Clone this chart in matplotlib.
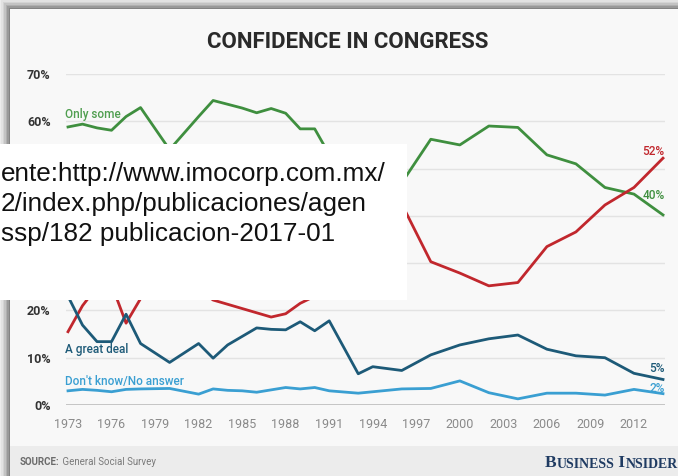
import matplotlib.pyplot as plt
from matplotlib.patches import Rectangle

# survey years and shares (%) for each answer
years = [1973, 1974, 1975, 1976, 1977, 1978, 1980, 1982, 1983, 1984, 1985, 1986, 1987,
         1988, 1989, 1990, 1991, 1993, 1994, 1996, 1998, 2000, 2002, 2004, 2006, 2008,
         2010, 2012, 2014]
great_deal = [23.0, 16.9, 13.4, 13.4, 19.2, 13.0, 9.0, 13.0, 9.9, 12.7, 14.5, 16.3, 16.0,
              15.9, 17.6, 15.7, 17.8, 6.6, 8.1, 7.3, 10.6, 12.7, 14.0, 14.8, 11.8, 10.4,
              10.0, 6.7, 5.4]
only_some = [58.8, 59.4, 58.6, 58.1, 61.0, 62.9, 54.0, 61.0, 64.4, 63.6, 62.8, 61.8, 62.7,
             61.7, 58.4, 58.4, 53.0, 50.0, 51.0, 47.0, 56.2, 55.0, 59.0, 58.7, 52.9, 51.0,
             46.0, 44.6, 40.2]
hardly_any = [15.5, 21.0, 25.0, 25.5, 17.3, 22.5, 34.0, 24.5, 22.2, 21.3, 20.4, 19.5, 18.6,
              19.3, 21.5, 23.0, 27.0, 40.0, 38.0, 42.5, 30.3, 27.9, 25.2, 25.9, 33.5, 36.6,
              42.3, 46.0, 52.2]
dont_know = [3.0, 3.3, 3.1, 2.8, 3.3, 3.4, 3.5, 2.3, 3.4, 3.1, 3.0, 2.7, 3.2,
             3.7, 3.4, 3.7, 3.0, 2.5, 2.8, 3.4, 3.5, 5.1, 2.6, 1.3, 2.5, 2.5,
             2.1, 3.3, 2.4]

xtick_years = list(range(1973, 2013, 3))
ytick_vals = list(range(0, 71, 10))

source_lines = ["ente:http://www.imocorp.com.mx/",
                "2/index.php/publicaciones/agen",
                "ssp/182 publicacion-2017-01"]

GREEN = '#3f8f3f'
RED = '#c1272d'
DARK = '#1d5a78'
LIGHT = '#3a9fd2'

W, H = 678, 476


def fx(x):
    return x / W


def fy(y):
    return 1 - y / H


fig = plt.figure(figsize=(W / 100, H / 100), dpi=100)
fig.patch.set_facecolor('#ececec')

# soft shadow around the card
for i, a in enumerate([0.04, 0.06, 0.08, 0.10, 0.12, 0.14]):
    off = 9 - i * 1.5
    fig.add_artist(Rectangle((fx(10 - off), 0), 1, fy(9 - off), transform=fig.transFigure,
                             facecolor='#000000', alpha=a, lw=0, zorder=-10))
fig.add_artist(Rectangle((fx(10), 0), 1, fy(9), transform=fig.transFigure,
                         facecolor='#f8f8f8', lw=0, zorder=-9))
# footer band
fig.add_artist(Rectangle((fx(10), 0), 1, fy(446), transform=fig.transFigure,
                         facecolor='#ececec', lw=0, zorder=-8))

ax = fig.add_axes([fx(66), fy(405), fx(665) - fx(66), fy(74) - fy(405)])
ax.patch.set_alpha(0)
ax.set_xlim(1973 - 2 / 14.51, 2014 + 2 / 14.51)
ax.set_ylim(0, 70)

ax.grid(axis='y', color='#e3e3e3', lw=1)
ax.set_axisbelow(True)
ax.axhline(0, color='#b8b8b8', lw=1.8, zorder=1)
for s in ax.spines.values():
    s.set_visible(False)

lw = 2.0
ax.plot(years, only_some, color=GREEN, lw=lw, zorder=3, clip_on=False)
ax.plot(years, hardly_any, color=RED, lw=lw, zorder=3, clip_on=False)
ax.plot(years, great_deal, color=DARK, lw=lw, zorder=3, clip_on=False)
ax.plot(years, dont_know, color=LIGHT, lw=lw, zorder=3, clip_on=False)

ax.set_yticks(ytick_vals)
# 30-50% sit under the white source box
ax.set_yticklabels([f"{v}%" if v not in (30, 40, 50) else "" for v in ytick_vals],
                   fontsize=9, fontweight='bold', color='#333333', family='Roboto')
ax.set_xticks(xtick_years)
ax.set_xticklabels([str(y) for y in xtick_years], fontsize=9, color='#8a8a8a',
                   family='Roboto')
ax.tick_params(axis='y', length=0, pad=11)
ax.tick_params(axis='x', length=0, pad=9)

# series names on the left
lab = dict(family='Roboto', fontsize=8.5, fontweight='medium', va='center', ha='left',
           textcoords='offset points')
ax.annotate("Only some", xy=(years[0], only_some[0]), xytext=(-2, 9),
            color='#4f9e4f', **lab)
ax.annotate("A great deal", xy=(years[0], fy(349)), xycoords=('data', 'figure fraction'),
            xytext=(-2, 0), color=DARK, **lab)
ax.annotate("Don't know/No answer", xy=(years[0], fy(381)),
            xycoords=('data', 'figure fraction'), xytext=(-2, 0), color=LIGHT, **lab)

# end values on the right
end = dict(family='Roboto', fontsize=8.5, fontweight='medium', ha='right', va='center',
           textcoords='offset points')
ax.annotate(f"{round(hardly_any[-1])}%", xy=(years[-1], hardly_any[-1]), xytext=(1, 5),
            color=RED, **end)
ax.annotate(f"{round(only_some[-1])}%", xy=(years[-1], only_some[-1]), xytext=(1, 14),
            color=GREEN, **end)
ax.annotate(f"{round(great_deal[-1])}%", xy=(years[-1], great_deal[-1]), xytext=(1, 8),
            color=DARK, **end)
ax.annotate(f"{round(dont_know[-1])}%", xy=(years[-1], dont_know[-1]), xytext=(1, 4),
            color=LIGHT, **end)

fig.text(fx(348), fy(42), "CONFIDENCE IN CONGRESS", ha='center', va='center',
         fontsize=16, fontweight='bold', color='#2a2a2a', family='Roboto')

# footer
src = fig.text(fx(20), fy(462), "SOURCE:", ha='left', va='center', fontsize=7,
               fontweight='bold', color='#6b6b6b', family='Roboto')
ax.annotate(" General Social Survey", xy=(1, 0.5), xycoords=src, xytext=(0, 0),
            textcoords='offset points', ha='left', va='center', fontsize=7,
            color='#7a7a7a', family='Roboto', annotation_clip=False)

navy = '#1f3b62'
bi = dict(family='Liberation Serif', fontweight='bold', color=navy)
prev = fig.text(fx(545), fy(467), "B", fontsize=12.5, ha='left', va='baseline', **bi)
for s, size in [("USINESS", 10), (" I", 12.5), ("NSIDER", 10)]:
    prev = ax.annotate(s, xy=(1, 0), xycoords=prev, xytext=(0, 0),
                       textcoords='offset points', fontsize=size, ha='left',
                       va='bottom', annotation_clip=False, **bi)

# white source box laid over the chart
fig.add_artist(Rectangle((0, fy(300)), fx(407), fy(144) - fy(300), transform=fig.transFigure,
                         facecolor='white', lw=0, zorder=20))
for i, line in enumerate(source_lines):
    fig.text(fx(1), fy(181 + 30 * i), line, ha='left', va='baseline', fontsize=18.8,
             color='#111111', family='Liberation Sans', zorder=21)

fig.savefig('out.png', dpi=100, facecolor=fig.get_facecolor())
